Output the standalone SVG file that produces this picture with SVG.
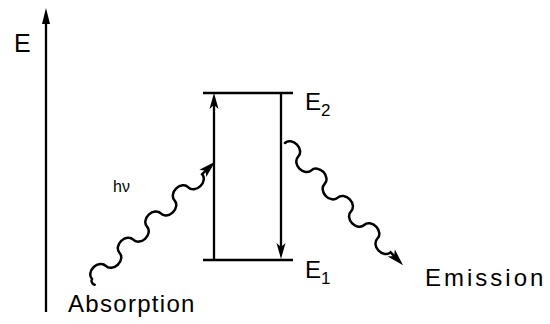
<svg xmlns="http://www.w3.org/2000/svg" width="550" height="324" viewBox="0 0 550 324">
<style>
.ln{stroke:#000;stroke-width:2.3;fill:none}
.wv{stroke:#000;stroke-width:2.5;fill:none;stroke-linecap:round}
.hd{fill:#000;stroke:none}
.t{font-family:"Liberation Sans",Arial,sans-serif;fill:#000}
</style>
<rect width="550" height="324" fill="#fff"/>
<g id="axis">
<line class="ln" x1="46" y1="312" x2="46" y2="20" stroke-width="2.5"/>
<polygon class="hd" points="46,8 42,24 50,24"/>
<text class="t" x="14" y="52" font-size="25">E</text>
</g>
<g id="E2">
<line class="ln" x1="203" y1="93" x2="293" y2="93"/>
<text class="t" x="305" y="110" font-size="24">E<tspan font-size="17" dy="6">2</tspan></text>
</g>
<g id="E1">
<line class="ln" x1="203" y1="260" x2="293" y2="260"/>
<text class="t" x="305" y="278" font-size="24">E<tspan font-size="17" dy="6">1</tspan></text>
</g>
<g id="connectors">
<line class="ln" x1="214" y1="260" x2="214" y2="104"/>
<polygon class="hd" points="214,93 209.5,109 214,105 218.5,109"/>
<line class="ln" x1="281" y1="93" x2="281" y2="248"/>
<polygon class="hd" points="281,259 276.5,243 281,247 285.5,243"/>
</g>
<g id="absorption">
<path class="wv" transform="translate(92,279) rotate(-43.6)" d="M-2,6 a4,4 0 0 1 2,-6 a9.5,7.5 0 0 1 19,0 a9.5,7.5 0 0 0 19,0 a9.5,7.5 0 0 1 19,0 a9.5,7.5 0 0 0 19,0 a9.5,7.5 0 0 1 19,0 a9.5,7.5 0 0 0 19,0 a9.5,7.5 0 0 1 19,0 a9.5,7.5 0 0 0 19,0 l6,0"/>
<polygon class="hd" transform="translate(92,279) rotate(-43.6)" points="170,0 153,-5 157,0 153,5"/>
<text class="t" x="113" y="192" font-size="16">hν</text>
<text class="t" x="68" y="312" font-size="24" letter-spacing="1.3">Absorption</text>
</g>
<g id="emission">
<path class="wv" transform="translate(285,143) rotate(46)" d="M0,0 a9.5,7.5 0 0 1 19,0 a9.5,7.5 0 0 0 19,0 a9.5,7.5 0 0 1 19,0 a9.5,7.5 0 0 0 19,0 a9.5,7.5 0 0 1 19,0 a9.5,7.5 0 0 0 19,0 a9.5,7.5 0 0 1 19,0 a9.5,7.5 0 0 0 19,0 l6,0"/>
<polygon class="hd" transform="translate(285,143) rotate(46)" points="170,0 153,-5 157,0 153,5"/>
<text class="t" x="425" y="286" font-size="24" letter-spacing="3">Emission</text>
</g>
</svg>
